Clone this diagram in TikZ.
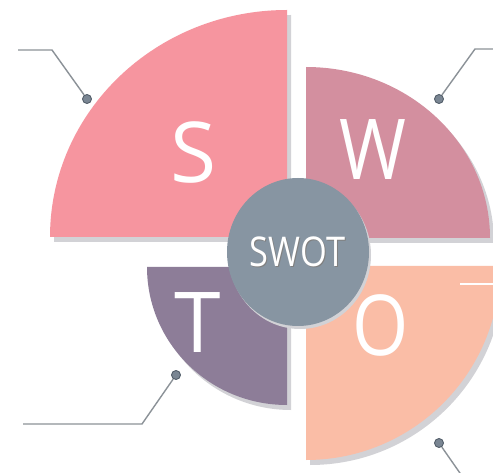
\documentclass[tikz,border=0pt]{standalone}
\usepackage{fontspec}
\setmainfont{Open Sans}
\usetikzlibrary{shapes.geometric}
\definecolor{cS}{RGB}{246,149,159}
\definecolor{cW}{RGB}{211,143,159}
\definecolor{cT}{RGB}{141,125,152}
\definecolor{cO}{RGB}{250,189,166}
\definecolor{cC}{RGB}{135,149,162}
\definecolor{shd}{RGB}{210,210,214}
\definecolor{leadc}{RGB}{140,146,152}
\definecolor{dotf}{RGB}{122,134,147}
\definecolor{dotd}{RGB}{84,95,107}
\tikzset{
  lead/.style={draw=leadc, line width=1.4pt},
  dotnode/.style={circle, fill=dotf, draw=dotd, line width=0.9pt, minimum size=9pt, inner sep=0pt},
  bigletter/.style={text=white, inner sep=0pt, font=\fontsize{84}{84}\selectfont},
  shadowfill/.style={fill=shd}
}
\begin{document}
\begin{tikzpicture}[x=1pt,y=-1pt]
\useasboundingbox (0,0) rectangle (493,473);
\clip (0,0) rectangle (493,473);
\fill[white] (0,0) rectangle (493,473);
% shadows
\begin{scope}[shift={(4,5)}]
  \fill[shadowfill] (287,237) -- (50,237) arc[start angle=180, end angle=270, x radius=237, y radius=227] -- cycle;
  \fill[shadowfill] (306,238) -- (306,67) arc[start angle=270, end angle=360, x radius=184, y radius=171] -- cycle;
  \fill[shadowfill] (287,267) -- (147,267) arc[start angle=180, end angle=90, x radius=140, y radius=138] -- cycle;
  \fill[shadowfill] (306,266) -- (500,266) arc[start angle=0, end angle=90, x radius=194, y radius=194] -- cycle;
\end{scope}
% quadrants
\fill[cS] (287,237) -- (50,237) arc[start angle=180, end angle=270, x radius=237, y radius=227] -- cycle;
\fill[cW] (306,238) -- (306,67) arc[start angle=270, end angle=360, x radius=184, y radius=171] -- cycle;
\fill[cT] (287,267) -- (147,267) arc[start angle=180, end angle=90, x radius=140, y radius=138] -- cycle;
\fill[cO] (306,266) -- (500,266) arc[start angle=0, end angle=90, x radius=194, y radius=194] -- cycle;
\draw[white, line width=1.5pt] (460,284) -- (493,284);
% letters
\node[bigletter] (ls) at (194,152) {S};
\node[bigletter] (lw) at (373,150) {\scalebox{0.86}[1]{W}};
\node[bigletter] (lt) at (198,323) {T};
\node[bigletter] (lo) at (381,325) {\scalebox{0.86}[1]{O}};
% centre
\fill[shd] (300,255) ellipse[x radius=71, y radius=74];
\node[ellipse, fill=cC, minimum width=142pt, minimum height=148pt, inner sep=0pt] (swot) at (298,252) {};
\node[text=black!50, inner sep=0pt, font=\fontsize{41}{41}\selectfont] at (298.6,252.7) {\scalebox{0.84}[1]{SWOT}};
\node[text=white, inner sep=0pt, font=\fontsize{41}{41}\selectfont] (swott) at (297.5,252) {\scalebox{0.84}[1]{SWOT}};
% leaders
\node[dotnode] (ds) at (87,99) {};
\coordinate (es) at (52,50);
\coordinate (fs) at (18,50);
\draw[lead] (ds) -- (es) -- (fs);
\node[dotnode] (dw) at (439,99) {};
\coordinate (ew) at (475,49);
\coordinate (fw) at (494,49);
\draw[lead] (dw) -- (ew) -- (fw);
\node[dotnode] (dt) at (176,375) {};
\coordinate (et) at (142,424);
\coordinate (ft) at (23,424);
\draw[lead] (dt) -- (et) -- (ft);
\node[dotnode] (do) at (439,443) {};
\coordinate (eo) at (462,476);
\draw[lead] (do) -- (eo);
\end{tikzpicture}
\end{document}
